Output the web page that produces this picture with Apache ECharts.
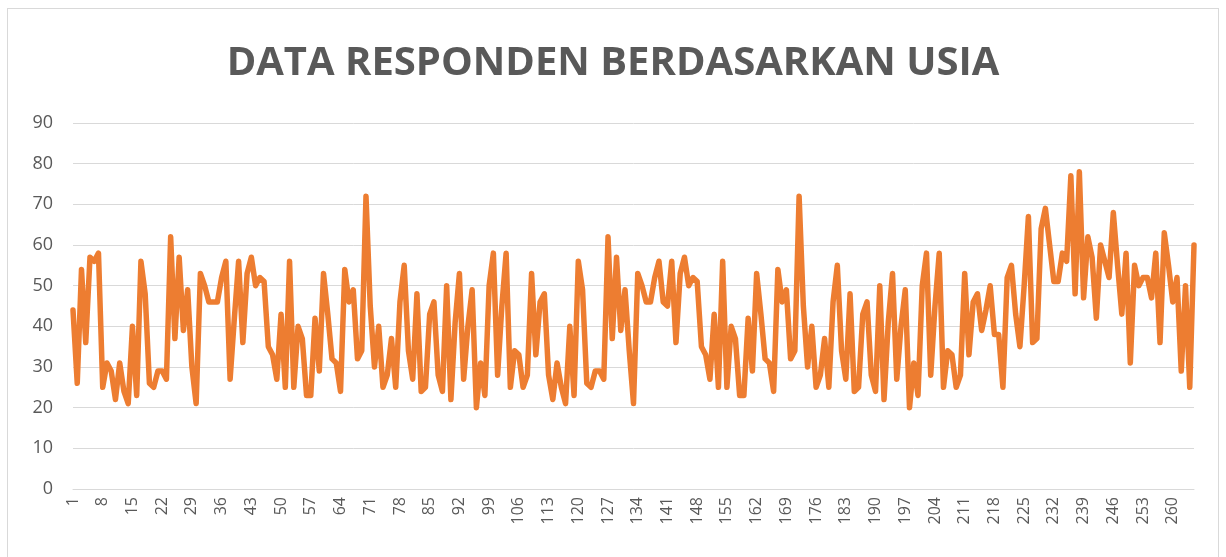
<!DOCTYPE html>
<html>
<head>
    <meta charset="utf-8">
    <title>Data Responden Berdasarkan Usia</title>
    <script src="https://cdnjs.cloudflare.com/ajax/libs/echarts/6.0.0/echarts.min.js"></script>
    <style>
        html, body { margin: 0; padding: 0; background: #fff; }
        #main { position: absolute; left: 7px; top: 8px; width: 1212px; height: 560px; border: 1px solid #d9d9d9; box-sizing: border-box; }
    </style>
</head>
<body>
<div id="main"></div>
<script type="text/javascript">
    // usia responden, urut sesuai nomor responden
    var usia = [
        44, 26, 54, 36, 57, 56, 58, 25, 31, 29, 22, 31, 24, 21, 40, 23, 56, 48, 26, 25, 29, 29, 27,
        62, 37, 57, 39, 49, 30, 21, 53, 50, 46, 46, 46, 52, 56, 27, 42, 56, 36, 53, 57, 50, 52, 51, 35, 33,
        27, 43, 25, 56, 25, 40, 37, 23, 23, 42, 29, 53, 43, 32, 31, 24, 54, 46, 49, 32, 34, 72,
        45, 30, 40, 25, 28, 37, 25, 46, 55, 34, 27, 48, 24, 25, 43, 46, 28, 24, 50, 22, 41, 53, 27, 40, 49, 20, 31, 23,
        50, 58, 28, 45, 58, 25, 34, 33, 25, 28, 53, 33, 46, 48, 28, 22, 31, 25, 21, 40, 23, 56, 49, 26,
        25, 29, 29, 27, 62, 37, 57, 39, 49, 34, 21, 53, 50, 46, 46, 52, 56, 46, 45, 56, 36, 53, 57, 50, 52,
        51, 35, 33, 27, 43, 25, 56, 25, 40, 37, 23, 23, 42, 29, 53, 43, 32, 31, 24, 54, 46, 49, 32, 34, 72,
        45, 30, 40, 25, 28, 37, 25, 46, 55, 34, 27, 48, 24, 25, 43, 46, 28, 24, 50, 22, 41, 53, 27, 40, 49, 20, 31, 23,
        50, 58, 28, 45, 58, 25, 34, 33, 25, 28, 53, 33, 46, 48, 39, 44, 50, 38, 38, 25, 52, 55,
        43, 35, 50, 67, 36, 37, 64, 69, 60, 51, 51, 58, 56, 77, 48, 78, 47, 62, 57, 42, 60, 56, 52,
        68, 55, 43, 58, 31, 55, 50, 52, 52, 47, 58, 36, 63, 55, 46, 52, 29, 50, 25, 60
    ];
    var judul = 'DATA RESPONDEN BERDASARKAN USIA';
    var yMax = 90;
    var yStep = 10;

    // nomor responden 1..n
    var nomor = [];
    for (var i = 0; i < usia.length; i++) {
        nomor.push(String(i + 1));
    }

    var myChart = echarts.init(document.getElementById('main'));

    var option = {
        animation: false,
        title: {
            text: judul,
            left: 'center',
            top: 30,
            textStyle: {
                fontFamily: 'Open Sans',
                fontWeight: 'bold',
                fontSize: 40,
                color: '#595959'
            }
        },
        grid: {
            left: 65,
            right: 24,
            top: 114,
            bottom: 78
        },
        xAxis: {
            type: 'category',
            data: nomor,
            boundaryGap: false,
            axisLine: { lineStyle: { color: '#d9d9d9', width: 1 } },
            axisTick: { show: false },
            axisLabel: {
                interval: 6,
                rotate: 90,
                margin: 8,
                color: '#595959',
                fontFamily: 'Open Sans',
                fontSize: 16
            }
        },
        yAxis: {
            type: 'value',
            min: 0,
            max: yMax,
            interval: yStep,
            axisLine: { show: false },
            axisTick: { show: false },
            axisLabel: {
                margin: 20,
                color: '#595959',
                fontFamily: 'Open Sans',
                fontSize: 18
            },
            splitLine: { lineStyle: { color: '#d9d9d9', width: 1 } }
        },
        series: [
            {
                name: 'Usia',
                type: 'line',
                data: usia,
                showSymbol: false,
                lineStyle: { color: '#ED7D31', width: 5.5, join: 'round', cap: 'round' },
                itemStyle: { color: '#ED7D31' }
            }
        ]
    };

    myChart.setOption(option);
</script>
</body>
</html>
